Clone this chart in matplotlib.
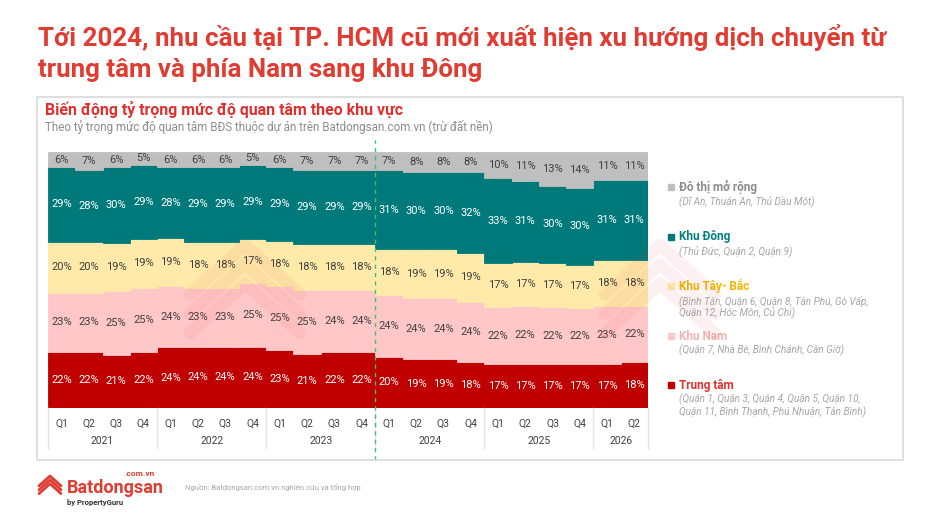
import matplotlib
matplotlib.use('Agg')
import matplotlib.pyplot as plt
import matplotlib.transforms as mtransforms
from matplotlib.patches import Rectangle
from matplotlib.lines import Line2D
import numpy as np

plt.rcParams['font.family'] = ['Roboto', 'DejaVu Sans']

# data (share of interest, %)
quarters = ['Q1', 'Q2', 'Q3', 'Q4'] * 5 + ['Q1', 'Q2']
years = ['2021', '2022', '2023', '2024', '2025', '2026']
year_len = [4, 4, 4, 4, 4, 2]

trung_tam = [22, 22, 21, 22, 24, 24, 24, 24, 23, 21, 22, 22,
             20, 19, 19, 18, 17, 17, 17, 17, 17, 18]
khu_nam = [23, 23, 25, 25, 24, 23, 23, 25, 25, 25, 24, 24,
           24, 24, 24, 24, 22, 22, 22, 22, 23, 22]
khu_tay_bac = [20, 20, 19, 19, 19, 18, 18, 17, 18, 18, 18, 18,
               18, 19, 19, 19, 17, 17, 17, 17, 18, 18]
khu_dong = [29, 28, 30, 29, 28, 29, 29, 29, 29, 29, 29, 29,
            31, 30, 30, 32, 33, 31, 30, 30, 31, 31]
do_thi_mo_rong = [6, 7, 6, 5, 6, 6, 6, 5, 6, 7, 7, 7,
                  7, 8, 8, 8, 10, 11, 13, 14, 11, 11]

series_names = ['Trung tâm', 'Khu Nam', 'Khu Tây- Bắc', 'Khu Đông', 'Đô thị mở rộng']
series_desc = ['(Quận 1, Quận 3, Quận 4, Quận 5, Quận 10,\nQuận 11, Bình Thạnh, Phú Nhuận, Tân Bình)',
               '(Quận 7, Nhà Bè, Bình Chánh, Cần Giờ)',
               '(Bình Tân, Quận 6, Quận 8, Tân Phú, Gò Vấp,\nQuận 12, Hóc Môn, Củ Chi)',
               '(Thủ Đức, Quận 2, Quận 9)',
               '(Dĩ An, Thuận An, Thủ Dầu Một)']
series = [trung_tam, khu_nam, khu_tay_bac, khu_dong, do_thi_mo_rong]
fill_colors = ['#C00000', '#FFC7C7', '#FFEAAA', '#00797B', '#BFBFBF']
text_colors = ['white', '#404040', '#404040', 'white', '#404040']
legend_colors = ['#E0302E', '#F2B2B2', '#F2B600', '#00807F', '#8C8C8C']

W, H = 951, 520
fig = plt.figure(figsize=(W / 100, H / 100), dpi=100)
fig.patch.set_facecolor('white')


def ft(x, y, s, **kw):
    return fig.text(x / W, 1 - y / H, s, **kw)


def logo(x0, y0, size, color, lw, alpha=1.0, zorder=0):
    # stacked chevrons like the brand mark, in pixel coords
    for dy in (0, 0.35, 0.7):
        fig.add_artist(Line2D([(x0 - size) / W, x0 / W, (x0 + size) / W],
                              [1 - (y0 + dy * size + size * 0.9) / H,
                               1 - (y0 + dy * size) / H,
                               1 - (y0 + dy * size + size * 0.9) / H],
                              transform=fig.transFigure, color=color,
                              linewidth=lw, alpha=alpha, zorder=zorder,
                              solid_capstyle='round'))


# headline
ft(38, 38, 'Tới 2024, nhu cầu tại TP. HCM cũ mới xuất hiện xu hướng dịch chuyển từ',
   fontsize=18.6, fontweight='bold', color='#E03C31', va='center')
ft(38, 70, 'trung tâm và phía Nam sang khu Đông',
   fontsize=18.6, fontweight='bold', color='#E03C31', va='center')

# panel box
fig.add_artist(Rectangle((37 / W, 1 - 460 / H), (903 - 37) / W, (460 - 97) / H,
                         transform=fig.transFigure, fill=False,
                         edgecolor='#D9D9D9', linewidth=1.2))
ft(45, 110, 'Biến động tỷ trọng mức độ quan tâm theo khu vực',
   fontsize=11.4, fontweight='bold', color='#E0302E', va='center')
ft(45, 127, 'Theo tỷ trọng mức độ quan tâm BĐS thuộc dự án trên Batdongsan.com.vn (trừ đất nền)',
   fontsize=8.4, color='#8C8C8C', va='center')

# chart
ax = fig.add_axes([48 / W, 1 - 408 / H, (648 - 48) / W, (408 - 152) / H])
data = np.array(series, dtype=float)
share = data / data.sum(axis=0) * 100
x = np.arange(len(quarters))
bottom = np.zeros(len(quarters))
for vals, raw, fc, tc in zip(share, data, fill_colors, text_colors):
    ax.bar(x, vals, bottom=bottom, width=1.0, color=fc, edgecolor=fc, linewidth=0.6)
    for xi, b, v, r in zip(x, bottom, vals, raw):
        ax.text(xi, b + v / 2, f'{int(r)}%', ha='center', va='center',
                fontsize=8, color=tc, zorder=5)
    bottom += vals

ax.set_xlim(-0.5, len(quarters) - 0.5)
ax.set_ylim(0, 100)
ax.axis('off')

trans = mtransforms.blended_transform_factory(ax.transData, ax.transAxes)
for xi, q in zip(x, quarters):
    ax.text(xi, -0.06, q, transform=trans, ha='center', va='center',
            fontsize=7.5, color='#404040')
start = 0
edges = [-0.5]
for yr, n in zip(years, year_len):
    ax.text(start + (n - 1) / 2, -0.13, yr, transform=trans, ha='center',
            va='center', fontsize=7.5, color='#404040')
    start += n
    edges.append(start - 0.5)
for e in edges:
    ax.plot([e, e], [0, -0.157], transform=trans, color='#E3E3E3',
            linewidth=1, clip_on=False)

# 2024 marker
ax.plot([11.5, 11.5], [-0.203, 1.047], transform=trans, color='#3CC46E',
        linewidth=1, linestyle=(0, (3, 3)), clip_on=False)

# faint watermark marks (shapes only)
logo(245, 245, 55, '#E03C31', 9, alpha=0.07, zorder=10)
logo(660, 245, 55, '#E03C31', 9, alpha=0.07, zorder=10)

# legend
legend_y = [385, 336, 286, 237, 187]
for name, desc, lc, fc, ly in zip(series_names, series_desc, legend_colors,
                                  fill_colors, legend_y):
    fig.add_artist(Rectangle((668 / W, 1 - (ly + 3) / H), 6 / W, 6 / H,
                             transform=fig.transFigure, color=fc))
    ft(679, ly, name, fontsize=8.5, fontweight='bold', color=lc, va='center')
    ft(679, ly + 9, desc, fontsize=7.2, style='italic', color='#A6A6A6',
       va='top', linespacing=1.15)

# footer
ft(67, 488, 'Batdongsan', fontsize=13, fontweight='bold', color='#E03C31', va='center')
ft(124, 474, '.com.vn', fontsize=6, fontweight='bold', color='#E03C31', va='center')
ft(67, 502, 'by PropertyGuru', fontsize=5.5, fontweight='bold', color='#333333', va='center')
logo(50, 476, 11, '#E03C31', 2)
ft(185, 487, 'Nguồn: Batdongsan.com.vn nghiên cứu và tổng hợp',
   fontsize=5.5, color='#A6A6A6', va='center')

fig.savefig('out.png', dpi=100)
